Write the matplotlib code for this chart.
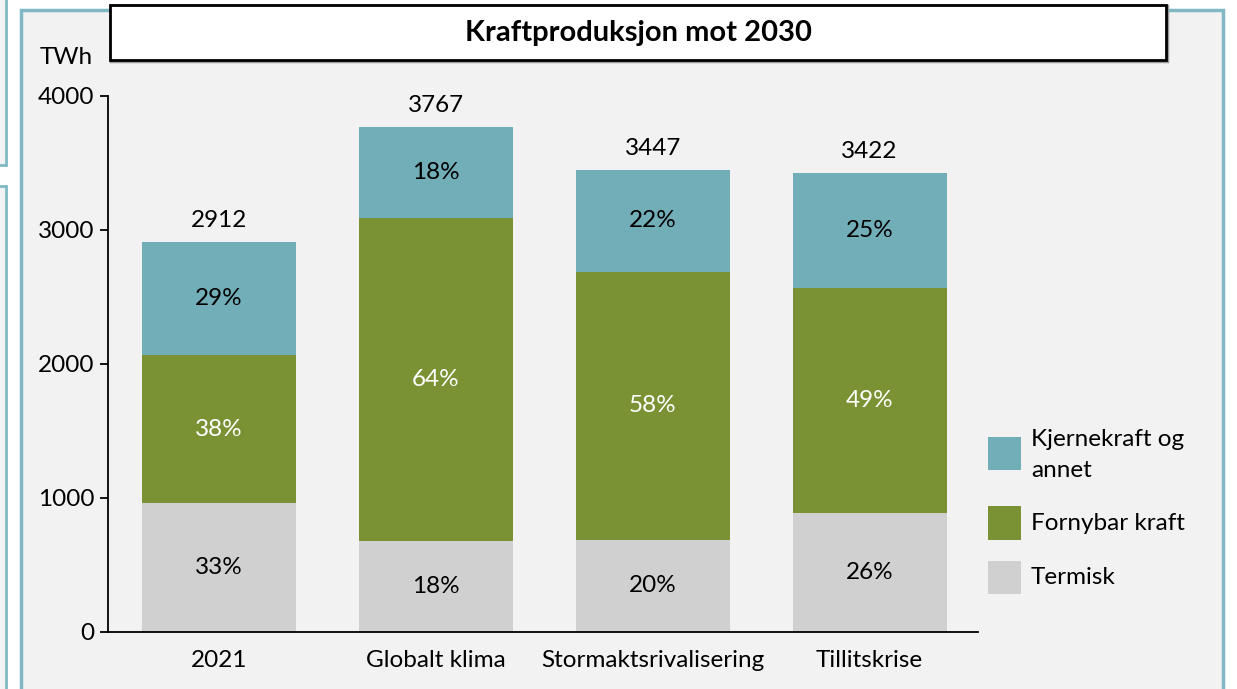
import matplotlib
matplotlib.use("Agg")
import matplotlib.pyplot as plt
from matplotlib.patches import Rectangle
import numpy as np

plt.rcParams['font.family'] = ['Lato', 'DejaVu Sans']

categories = ["2021", "Globalt klima", "Stormaktsrivalisering", "Tillitskrise"]
termisk = [961, 680, 689, 890]
fornybar = [1107, 2410, 2000, 1677]
kjerne = [844, 677, 758, 855]
totals = [2912, 3767, 3447, 3422]
pct_termisk = ["33%", "18%", "20%", "26%"]
pct_fornybar = ["38%", "64%", "58%", "49%"]
pct_kjerne = ["29%", "18%", "22%", "25%"]
series_names = ["Kjernekraft og\nannet", "Fornybar kraft", "Termisk"]
yticks = [0, 1000, 2000, 3000, 4000]
title = "Kraftproduksjon mot 2030"

c_kjerne = "#72aeb8"
c_forn = "#7a9233"
c_term = "#d0d0d0"
teal = "#80b9c4"
bg = "#f2f2f2"

W, H = 1237, 689
fig = plt.figure(figsize=(W / 100, H / 100), dpi=100, facecolor="white")

def fx(x):
    return x / W

def fy(y):
    return 1 - y / H

# background panels
fig.patches.append(Rectangle((fx(-10), fy(165)), fx(16), fy(-20) - fy(165),
                             transform=fig.transFigure, facecolor=bg,
                             edgecolor=teal, lw=2, zorder=-5))
fig.patches.append(Rectangle((fx(-10), fy(720)), fx(16), fy(186) - fy(720),
                             transform=fig.transFigure, facecolor=bg,
                             edgecolor=teal, lw=2, zorder=-5))
fig.patches.append(Rectangle((fx(21), fy(720)), fx(1223 - 21), fy(10) - fy(720),
                             transform=fig.transFigure, facecolor=bg,
                             edgecolor=teal, lw=2.5, zorder=-5))
# title box with slight shadow
fig.patches.append(Rectangle((fx(111), fy(61)), fx(1166 - 110), fy(5) - fy(60),
                             transform=fig.transFigure, facecolor="none",
                             edgecolor="#9a9a9a", lw=2.5, zorder=-4))
fig.patches.append(Rectangle((fx(110), fy(60)), fx(1166 - 110), fy(5) - fy(60),
                             transform=fig.transFigure, facecolor="white",
                             edgecolor="black", lw=2, zorder=-3))
fig.text(fx(638), fy(33), title, ha="center", va="center", fontsize=21,
         fontweight="bold", zorder=3)

ax = fig.add_axes([fx(108), fy(632), fx(978 - 108), fy(96) - fy(632)])
ax.set_facecolor("none")
ax.set_zorder(1)
x = np.arange(len(categories))
bw = 0.71

b1 = ax.bar(x, termisk, bw, color=c_term, zorder=2)
b2 = ax.bar(x, fornybar, bw, bottom=termisk, color=c_forn, zorder=2)
bottom3 = np.array(termisk) + np.array(fornybar)
b3 = ax.bar(x, kjerne, bw, bottom=bottom3, color=c_kjerne, zorder=2)

fs = 17.5
ax.bar_label(b1, labels=pct_termisk, label_type="center", fontsize=fs, color="black")
ax.bar_label(b2, labels=pct_fornybar, label_type="center", fontsize=fs, color="white")
ax.bar_label(b3, labels=pct_kjerne, label_type="center", fontsize=fs, color="black")
ax.bar_label(b3, labels=[str(t) for t in totals], padding=8, fontsize=fs, color="black")

ax.set_xlim(-0.512, 3.5)
ax.set_ylim(0, 4000)
ax.set_yticks(yticks)
ax.set_yticklabels([str(t) for t in yticks], fontsize=fs)
ax.set_xticks(x)
ax.set_xticklabels(categories, fontsize=fs)
ax.tick_params(axis="y", length=6, width=1.3, pad=4)
ax.tick_params(axis="x", length=0, pad=13)
for s in ["top", "right"]:
    ax.spines[s].set_visible(False)
for s in ["left", "bottom"]:
    ax.spines[s].set_linewidth(1.3)

fig.text(fx(40), fy(57), "TWh", ha="left", va="center", fontsize=fs)

# legend
leg_colors = [c_kjerne, c_forn, c_term]
leg_centers = [453, 523, 577]
text_centers = [455, 523, 577]
for col, yc, yt, name in zip(leg_colors, leg_centers, text_centers, series_names):
    fig.patches.append(Rectangle((fx(988), fy(yc + 16.5)), fx(33), fy(yc - 16.5) - fy(yc + 16.5),
                                 transform=fig.transFigure, facecolor=col,
                                 edgecolor="none", zorder=3))
    fig.text(fx(1031), fy(yt), name, ha="left", va="center", fontsize=fs,
             linespacing=1.6)

fig.savefig("out.png", dpi=100, facecolor="white")
